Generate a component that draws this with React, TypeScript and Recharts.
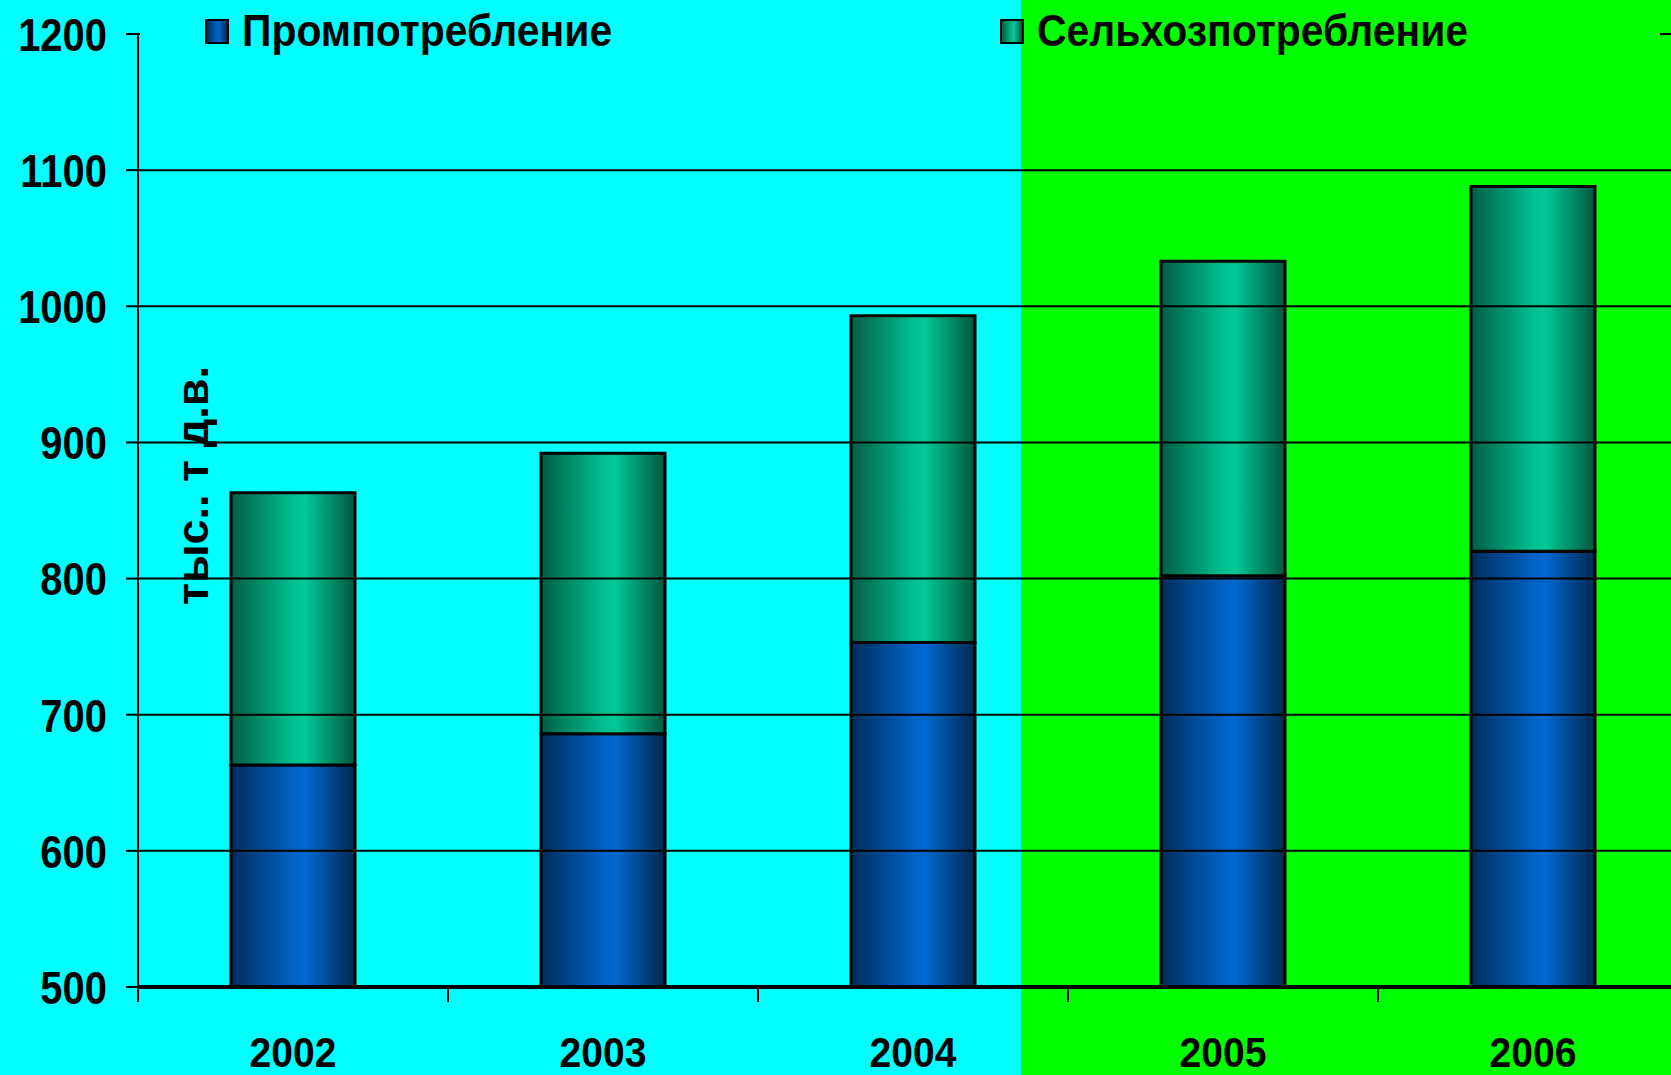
import { Bar, BarChart, Legend, ReferenceLine, XAxis, YAxis } from 'recharts';

const years = ['2002', '2003', '2004', '2005', '2006'];
const promValues = [663, 686, 753, 802, 820];
const selhozValues = [200, 206, 240, 231, 268];
const seriesNames = ['Промпотребление', 'Сельхозпотребление'];
const yTicks = [500, 600, 700, 800, 900, 1000, 1100, 1200];
const gridValues = [600, 700, 800, 900, 1000, 1100, 1200];
const unitLabel = 'тыс.. т д.в.';

const data = years.map((year, i) => ({
  year,
  prom: promValues[i],
  selhoz: selhozValues[i],
}));

const FONT = '"Liberation Sans", Arial, sans-serif';
const pageBackground = (split: number) =>
  `linear-gradient(to right, #00ffff ${split}px, #00ff00 ${split}px)`;
const blueGradient = 'linear-gradient(to right, #002d5c, #0062c4 50%, #0068cf 60%, #00284f)';
const greenGradient = 'linear-gradient(to right, #005e44, #00c090 50%, #00c896 60%, #00573d)';
const legendLefts = [205, 1000];

// x tick geometry
const X_TICK = 15;
const X_MARGIN = 35;

const ChartLegend = () => (
  <div style={{ position: 'relative', width: '100%', height: 60 }}>
    {/* legend box hides the top gridline, like the original */}
    <div
      style={{
        position: 'absolute',
        left: 140,
        top: 20,
        width: 1520,
        height: 30,
        background: pageBackground(1021 - 140),
      }}
    />
    {seriesNames.map((name, i) => (
      <div
        key={name}
        style={{
          position: 'absolute',
          left: legendLefts[i],
          top: 9,
          display: 'flex',
          alignItems: 'center',
          height: 44,
          whiteSpace: 'nowrap',
        }}
      >
        <span
          style={{
            display: 'inline-block',
            width: 20,
            height: 21,
            border: '2.5px solid #000',
            background: i === 0 ? blueGradient : greenGradient,
            marginRight: 13,
          }}
        />
        <span
          style={{
            display: 'inline-block',
            fontFamily: FONT,
            fontWeight: 700,
            fontSize: 44,
            lineHeight: 1,
            color: '#000',
            transform: 'scaleX(0.93)',
            transformOrigin: 'left center',
          }}
        >
          {name}
        </span>
      </div>
    ))}
  </div>
);

const YearTick = (props: any) => {
  const { x, y, payload } = props;
  const half = payload.offset ?? 0;
  return (
    <g>
      <line
        x1={x - half}
        x2={x - half}
        y1={y - X_TICK - X_MARGIN}
        y2={y - X_MARGIN}
        stroke="#000"
        strokeWidth={2}
      />
      <text
        transform={`translate(${x},${y}) scale(0.93,1)`}
        dy="0.71em"
        textAnchor="middle"
        fontFamily={FONT}
        fontWeight={700}
        fontSize={42}
        fill="#000"
      >
        {payload.value}
      </text>
    </g>
  );
};

const ValueTick = (props: any) => {
  const { x, y, payload } = props;
  return (
    <text
      transform={`translate(${x},${y}) scale(0.85,1)`}
      dy="0.358em"
      textAnchor="end"
      fontFamily={FONT}
      fontWeight={700}
      fontSize={47}
      fill="#000"
    >
      {payload.value}
    </text>
  );
};

const UnitLabel = (props: any) => {
  const { viewBox } = props;
  const x = viewBox.x + viewBox.width + 70;
  const y = viewBox.y + viewBox.height / 2 - 25;
  return (
    <text
      x={x}
      y={y}
      transform={`rotate(-90 ${x} ${y})`}
      textAnchor="middle"
      fontFamily={FONT}
      fontWeight={700}
      fontSize={45}
      fill="#000"
    >
      {unitLabel}
    </text>
  );
};

export default function App() {
  return (
    <div
      style={{
        position: 'fixed',
        top: 0,
        left: 0,
        width: 1671,
        height: 1075,
        overflow: 'hidden',
        background: pageBackground(1021),
      }}
    >
      <BarChart
        width={1700}
        height={1075}
        data={data}
        margin={{ top: 34, right: 12, bottom: 0, left: 0 }}
        barCategoryGap="30%"
      >
        <defs>
          <linearGradient id="blueFill" x1="0" y1="0" x2="1" y2="0">
            <stop offset="0%" stopColor="#002d5c" />
            <stop offset="50%" stopColor="#0062c4" />
            <stop offset="60%" stopColor="#0068cf" />
            <stop offset="100%" stopColor="#00284f" />
          </linearGradient>
          <linearGradient id="greenFill" x1="0" y1="0" x2="1" y2="0">
            <stop offset="0%" stopColor="#005e44" />
            <stop offset="50%" stopColor="#00c090" />
            <stop offset="60%" stopColor="#00c896" />
            <stop offset="100%" stopColor="#00573d" />
          </linearGradient>
        </defs>
        {gridValues.map((v) => (
          <ReferenceLine key={v} y={v} stroke="#000" strokeWidth={2} />
        ))}
        <XAxis
          dataKey="year"
          height={88}
          tickSize={X_TICK}
          tickMargin={X_MARGIN}
          tickLine={false}
          axisLine={{ stroke: '#000', strokeWidth: 4 }}
          tick={<YearTick />}
          interval={0}
        />
        <YAxis
          width={138}
          domain={[500, 1200]}
          ticks={yTicks}
          allowDataOverflow
          tickSize={12}
          tickMargin={19}
          axisLine={{ stroke: '#000', strokeWidth: 2 }}
          tickLine={{ stroke: '#000', strokeWidth: 2 }}
          tick={<ValueTick />}
          label={<UnitLabel />}
        />
        <Legend
          layout="horizontal"
          verticalAlign="middle"
          align="center"
          content={<ChartLegend />}
          wrapperStyle={{ top: 0, left: 0, width: 1700, height: 60 }}
        />
        <Bar
          dataKey="prom"
          name={seriesNames[0]}
          stackId="a"
          fill="url(#blueFill)"
          stroke="#000"
          strokeWidth={3}
          isAnimationActive={false}
        />
        <Bar
          dataKey="selhoz"
          name={seriesNames[1]}
          stackId="a"
          fill="url(#greenFill)"
          stroke="#000"
          strokeWidth={3}
          isAnimationActive={false}
        />
      </BarChart>
    </div>
  );
}
